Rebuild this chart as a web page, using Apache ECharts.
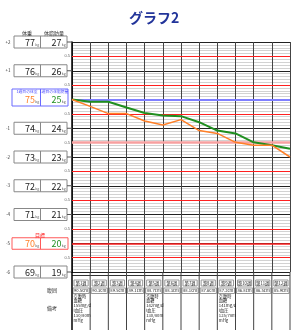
<!DOCTYPE html>
<html>
<head>
<meta charset="utf-8">
<script src="https://cdn.jsdelivr.net/npm/echarts@6/dist/echarts.min.js"></script>
<style>
  html, body { margin: 0; padding: 0; background: #fff; }
  #chart { width: 300px; height: 330px; }
</style>
</head>
<body>
<div id="chart"></div>
<script>
// データ
const weekLabels = ['第1週', '第2週', '第3週', '第4週', '第5週', '第6週', '第7週', '第8週', '第9週', '第10週', '第11週', '第12週'];
const weightData = [75.0, 74.76, 74.51, 74.51, 74.25, 74.11, 74.30, 73.92, 73.82, 73.51, 73.41, 73.41, 73.0];
const fatData = [25.0, 24.92, 24.92, 24.72, 24.53, 24.44, 24.42, 24.21, 23.92, 23.82, 23.51, 23.41, 23.29];
const waistData = ['90.5', '90.3', '89.5', '89.1', '88.7', '88.3', '88.1', '87.6', '87.2', '86.8', '86.5', '85.9'];
const noteData = [
  ['空腹時', '血糖', '155mg/d', 'l血圧', '130/80m', 'mHg'], [], [], [],
  ['空腹時', '血糖', '142mg/d', 'l血圧', '130/80m', 'mHg'], [], [], [],
  ['空腹時', '血糖', '141mg/d', 'l血圧', '125/78m', 'mHg'], [], [], []
];
const weightTicks = [77, 76, 75, 74, 73, 72, 71, 70, 69];
const fatTicks = [27, 26, 25, 24, 23, 22, 21, 20, 19];
const offsetLabels = ['+2', '+1', '', '-1', '-2', '-3', '-4', '-5', '-6'];
const halfLines = [76.5, 75.5, 74.5, 73.5, 72.5, 71.5, 70.5, 69.5];
const startWeight = 75;
const goalWeight = 70;

const FONT = '"Noto Sans CJK JP", "Noto Sans", sans-serif';
const ORANGE = '#ff7f27';
const GREEN = '#1f8f1f';

const chart = echarts.init(document.getElementById('chart'));

const markData = halfLines.map(v => ({
  yAxis: v,
  lineStyle: v === 73.5 ? { color: '#f7a0a0', width: 2.5, type: 'solid' } : { color: '#ff2020', width: 1, type: 'solid' },
  label: { show: true, position: 'start', formatter: '0.5', fontSize: 4, color: '#666', distance: 2 }
}));
markData.push({ yAxis: startWeight, lineStyle: { color: '#7f7fff', width: 2, type: 'solid' }, label: { show: false } });
markData.push({ yAxis: goalWeight, lineStyle: { color: '#ff2020', width: 1.5, type: 'solid' }, label: { show: false } });

chart.setOption({
  animation: false,
  title: {
    text: 'グラフ2',
    left: 124,
    top: 6,
    textStyle: { fontSize: 14, color: '#22349a', fontWeight: 'bold', fontFamily: FONT }
  },
  grid: { left: 72, right: 10, top: 42, bottom: 58 },
  xAxis: {
    type: 'value',
    min: 0,
    max: 12,
    interval: 1,
    axisLabel: { show: false },
    axisTick: { show: false },
    axisLine: { show: false },
    splitLine: { show: true, lineStyle: { color: '#444', width: 1 } }
  },
  yAxis: [
    {
      type: 'value',
      min: 69,
      max: 77,
      interval: 1,
      axisLabel: { show: false },
      axisTick: { show: false },
      axisLine: { show: true, lineStyle: { color: '#000', width: 1.5 } },
      splitLine: { show: true, lineStyle: { color: '#222', width: 1 } },
      minorTick: { show: false, splitNumber: 10 },
      minorSplitLine: { show: true, lineStyle: { color: '#d2d2d2', width: 1 } }
    },
    {
      type: 'value',
      min: 19,
      max: 27,
      interval: 1,
      show: false
    }
  ],
  series: [
    {
      name: '体脂肪量',
      type: 'line',
      yAxisIndex: 1,
      data: fatData.map((v, i) => [i, v]),
      showSymbol: false,
      lineStyle: { color: GREEN, width: 2 },
      z: 4
    },
    {
      name: '体重',
      type: 'line',
      yAxisIndex: 0,
      data: weightData.map((v, i) => [i, v]),
      showSymbol: false,
      lineStyle: { color: ORANGE, width: 1.5 },
      z: 5,
      markLine: {
        silent: true,
        symbol: 'none',
        z: 3,
        data: markData
      }
    }
  ]
});

// 左側の表と下の表
const px = (x, y) => chart.convertToPixel({ xAxisIndex: 0, yAxisIndex: 0 }, [x, y]);
const els = [];
const txt = (text, x, y, size, color, align, extra) => {
  els.push({
    type: 'text',
    z: 20,
    style: Object.assign({
      text: text, x: x, y: y, fontSize: size, fill: color || '#333',
      align: align || 'center', verticalAlign: 'middle', fontFamily: FONT
    }, extra || {})
  });
};
const line = (x1, y1, x2, y2, color, w) => {
  els.push({ type: 'line', z: 15, shape: { x1: x1, y1: y1, x2: x2, y2: y2 }, style: { stroke: color, lineWidth: w || 1 } });
};
const rect = (x, y, w, h, color) => {
  els.push({ type: 'rect', z: 14, shape: { x: x, y: y, width: w, height: h }, style: { fill: '#fff', stroke: color, lineWidth: 1 } });
};

txt('体重', 27, 33, 5);
txt('体脂肪量', 54, 33, 5);

weightTicks.forEach((w, i) => {
  const y = px(0, w)[1];
  let wColor = '#222', fColor = '#222';
  if (w === startWeight) {
    rect(12, y - 10.5, 56, 17, '#6a6aff');
    line(40.5, y - 10.5, 40.5, y + 6.5, '#6a6aff');
    txt('1週目の体重', 27, y - 8, 3.8, '#4a4aff');
    txt('1週目の体脂肪量', 54, y - 8, 3.8, '#4a4aff');
    wColor = ORANGE; fColor = GREEN;
  } else if (w === goalWeight) {
    rect(12, y - 5.5, 56, 11.5, '#ff5a5a');
    line(40.5, y - 5.5, 40.5, y + 6, '#ff5a5a');
    txt('目標', 40, y - 8.5, 5, '#ff2020');
    wColor = ORANGE; fColor = GREEN;
  } else {
    rect(14, y - 6, 53, 12, '#888');
    line(40.5, y - 6, 40.5, y + 6, '#888');
    line(67, y, 72, y, '#555');
  }
  txt(String(w), 35, y + 0.5, 9, wColor, 'right');
  txt('kg', 35.3, y + 2.5, 3.5, '#555', 'left');
  txt(String(fatTicks[i]), 61.5, y + 0.5, 9, fColor, 'right');
  txt('kg', 61.8, y + 2.5, 3.5, '#555', 'left');
  if (offsetLabels[i]) txt(offsetLabels[i], 8, y, 4.5, '#333');
});

// 下の表
const yBottom = px(0, 69)[1];
line(72, yBottom + 3.5, px(12, 69)[0], yBottom + 3.5, '#333', 1);
for (let i = 0; i <= 12; i++) {
  const x = px(i, 69)[0];
  line(x, yBottom, x, 330, i === 0 ? '#000' : '#444', i === 0 ? 1.5 : 1);
}
weekLabels.forEach((lab, i) => {
  const x0 = px(i, 69)[0];
  const x1 = px(i + 1, 69)[0];
  const cx = (x0 + x1) / 2;
  rect(x0 + 2, 280, x1 - x0 - 4, 6, '#999');
  txt(lab, cx, 283, 4.2, '#222');
  rect(x0 + 1, 288, x1 - x0 - 2, 5.5, '#999');
  txt(waistData[i] + 'cm', cx, 290.8, 4.2, '#222');
  noteData[i].forEach((n, k) => {
    txt(n, x0 + 1.5, 296 + k * 4.8, 4.2, '#222', 'left');
  });
});
txt('腹囲', 52, 290.5, 5);
txt('備考', 52, 308, 5);

chart.setOption({ graphic: { elements: els } });
</script>
</body>
</html>
